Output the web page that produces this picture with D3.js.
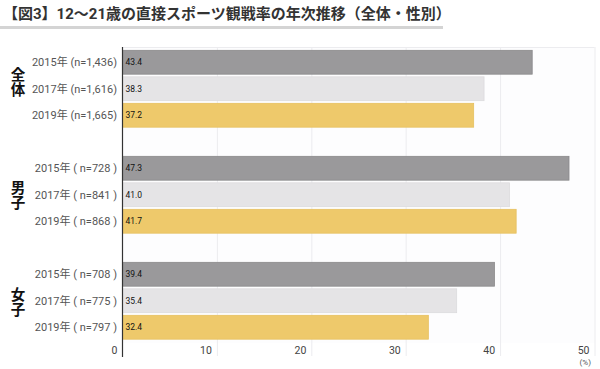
<!DOCTYPE html>
<html><head><meta charset="utf-8">
<script src="https://cdn.jsdelivr.net/npm/d3@7"></script>
<style>body{margin:0;background:#fff}svg{display:block}text{font-family:Roboto,"Noto Sans CJK JP",sans-serif}</style>
</head><body><svg id="c" width="600" height="369"></svg>
<script>
const groups = ["全体", "男子", "女子"];
const years = ["2015", "2017", "2019"];
const rowLabels = [
  ["2015年 (n=1,436)", "2017年 (n=1,616)", "2019年 (n=1,665)"],
  ["2015年 ( n=728 )", "2017年 ( n=841 )", "2019年 ( n=868 )"],
  ["2015年 ( n=708 )", "2017年 ( n=775 )", "2019年 ( n=797 )"]
];
const values = [
  [43.4, 38.3, 37.2],
  [47.3, 41.0, 41.7],
  [39.4, 35.4, 32.4]
];
const xTicks = [0, 10, 20, 30, 40, 50];
const colors = {"2015": "#9a999b", "2017": "#e5e4e6", "2019": "#eec96b"};
const strokes = {"2015": "#8a898b", "2017": "#dcdbdd", "2019": "#e6c060"};

const svg = d3.select("#c");
// title
svg.append("rect").attr("x", 0).attr("y", 26).attr("width", 443).attr("height", 3).attr("fill", "#d4d4d4");
svg.append("text").attr("x", 3).attr("y", 19).attr("font-size", 15).attr("font-weight", "bold").attr("fill", "#333")
  .text("【図3】12～21歳の直接スポーツ観戦率の年次推移（全体・性別）");

const x = d3.scaleLinear().domain([0, 50]).range([122.5, 594.5]);
const domain = [];
groups.forEach((g, gi) => { years.forEach(y => domain.push(g + "-" + y)); if (gi < groups.length - 1) domain.push("gap" + gi); });
const y = d3.scaleBand().domain(domain).range([49, 340.5]).paddingInner(0.1).paddingOuter(0.05);

// plot background
svg.append("rect").attr("x", x(0)).attr("y", 47).attr("width", x(50) - x(0)).attr("height", 296).attr("fill", "#fdfdfe");
// grid
svg.append("g").selectAll("line").data(xTicks.slice(1)).join("line")
  .attr("x1", d => x(d) + 0.5).attr("x2", d => x(d) + 0.5).attr("y1", 47).attr("y2", 356)
  .attr("stroke", "#ececef").attr("stroke-width", 1);
svg.append("line").attr("x1", x(0)).attr("x2", x(50)).attr("y1", 47.5).attr("y2", 47.5).attr("stroke", "#ececef");

const data = [];
groups.forEach((g, gi) => years.forEach((yr, yi) => data.push({g, yr, key: g + "-" + yr, v: values[gi][yi], label: rowLabels[gi][yi]})));

svg.append("g").selectAll("rect").data(data).join("rect")
  .attr("x", x(0)).attr("y", d => y(d.key)).attr("width", d => x(d.v) - x(0)).attr("height", y.bandwidth())
  .attr("fill", d => colors[d.yr]).attr("stroke", d => strokes[d.yr]).attr("stroke-width", 0.8);

svg.append("g").selectAll("text").data(data).join("text")
  .attr("x", x(0) + 3).attr("y", d => y(d.key) + y.bandwidth() / 2 + 3)
  .attr("font-size", 8.5).attr("fill", "#111").text(d => d.v.toFixed(1));

svg.append("g").selectAll("text").data(data).join("text")
  .attr("x", 117).attr("y", d => y(d.key) + y.bandwidth() / 2 + 4)
  .attr("text-anchor", "end").attr("font-size", 11).attr("fill", "#555").text(d => d.label);

// group labels written vertically
const groupShift = [-7, 0, 1];
groups.forEach((g, gi) => {
  const cy = y(g + "-2017") + y.bandwidth() / 2 + groupShift[gi];
  svg.append("text").attr("x", 16).attr("y", cy)
    .attr("writing-mode", "vertical-rl").style("writing-mode", "vertical-rl")
    .attr("text-anchor", "middle").attr("font-size", 14.5).attr("font-weight", "bold").attr("fill", "#111")
    .text(g);
});

// x axis tick labels
svg.append("g").selectAll("text").data(xTicks).join("text")
  .attr("x", d => x(d) - 5).attr("y", 354).attr("text-anchor", "end").attr("font-size", 10.5).attr("fill", "#444")
  .text(d => d);
svg.append("text").attr("x", 591).attr("y", 365).attr("text-anchor", "end").attr("font-size", 8).attr("fill", "#555").text("(%)");
// y axis line
svg.append("line").attr("x1", x(0)).attr("x2", x(0)).attr("y1", 47).attr("y2", 357).attr("stroke", "#333").attr("stroke-width", 1.2);
</script></body></html>
